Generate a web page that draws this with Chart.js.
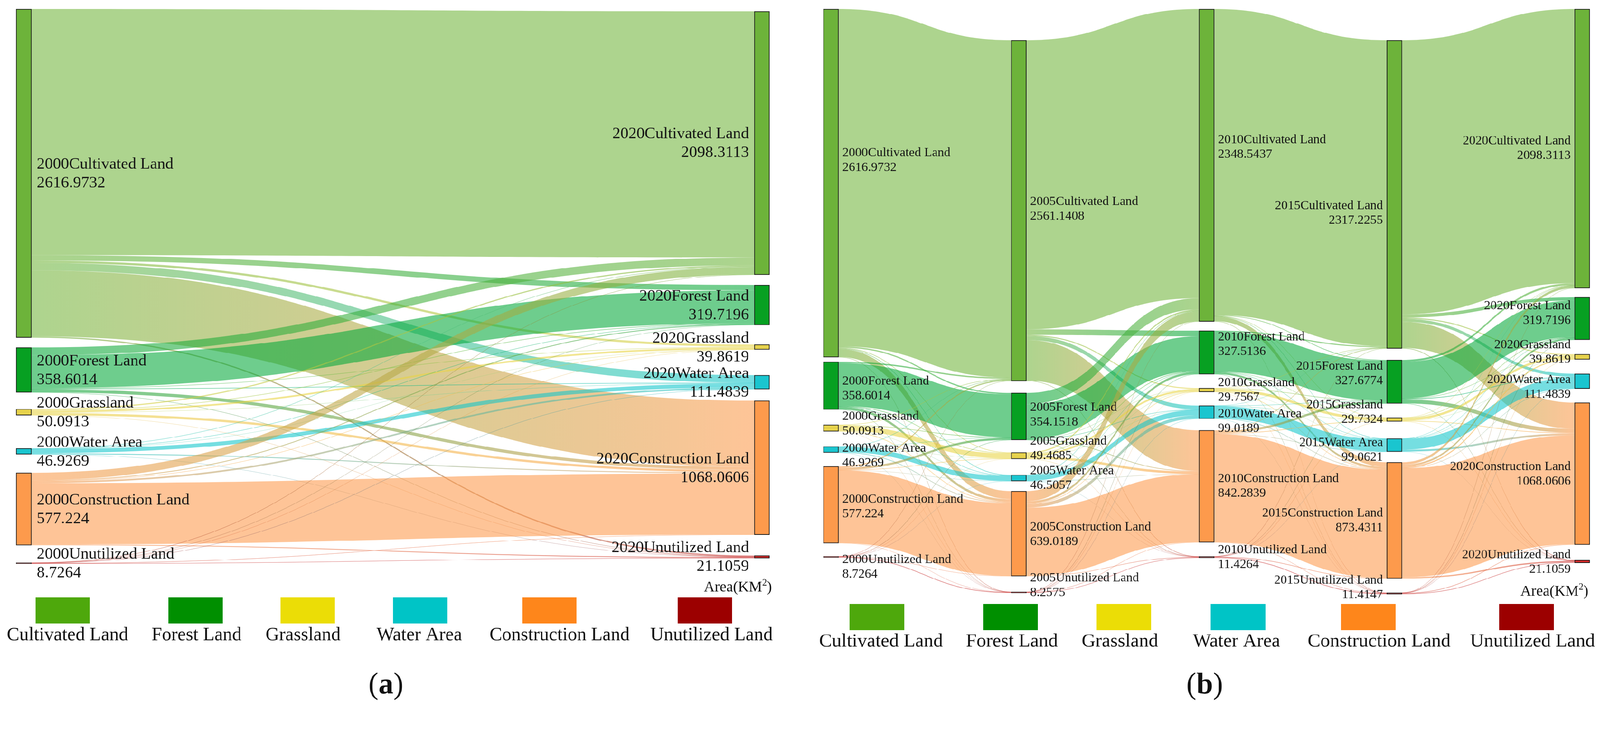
<!DOCTYPE html>
<html>
<head>
<meta charset="utf-8">
<script src="https://cdn.jsdelivr.net/npm/chart.js@4.4.0/dist/chart.umd.min.js"></script>
<style>
  html, body { margin: 0; padding: 0; background: #ffffff; overflow: hidden; }
  #wrap { position: relative; width: 4266px; height: 1880px; overflow: hidden; transform-origin: 0 0; }
  canvas { position: absolute; top: 0; }
</style>
</head>
<body>
<div id="wrap">
  <canvas id="chartA" width="2133" height="1880" style="left:0px;width:2133px;height:1880px"></canvas>
  <canvas id="chartB" width="2133" height="1880" style="left:2133px;width:2133px;height:1880px"></canvas>
</div>
<script>
// ---------------- DATA ----------------
const categories = ['Cultivated Land', 'Forest Land', 'Grassland', 'Water Area', 'Construction Land', 'Unutilized Land'];
const yearsA = ['2000', '2020'];
const yearsB = ['2000', '2005', '2010', '2015', '2020'];

const area2000 = [2616.9732, 358.6014, 50.0913, 46.9269, 577.224, 8.7264];
const area2005 = [2561.1408, 354.1518, 49.4685, 46.5057, 639.0189, 8.2575];
const area2010 = [2348.5437, 327.5136, 29.7567, 99.0189, 842.2839, 11.4264];
const area2015 = [2317.2255, 327.6774, 29.7324, 99.0621, 873.4311, 11.4147];
const area2020 = [2098.3113, 319.7196, 39.8619, 111.4839, 1068.0606, 21.1059];

// flows: rows = from category, columns = to category (km²)
const flow2000to2020 = [
  [1960, 43, 18, 60, 526, 9.9732],
  [62, 262, 4, 3.5, 26, 1.1014],
  [10, 5, 14, 1.5, 18.5913, 1.0],
  [4, 2, 0.8, 32, 7.6269, 0.5],
  [60, 7, 2.76, 13, 488, 6.464],
  [2.3113, 0.7196, 0.3019, 1.4839, 1.8424, 2.0673]
];
const flow2000to2005 = [
  [2534.9732, 10, 5, 5, 60, 2],
  [10, 323.1014, 3, 2, 20, 0.5],
  [3, 3, 37.9913, 1, 5, 0.1],
  [2, 1, 1, 37.9969, 4.9, 0.03],
  [10, 16, 2.4, 0.5, 547.324, 1.0],
  [1.1676, 1.0504, 0.0772, 0.0088, 1.7949, 4.6275]
];
const flow2005to2010 = [
  [2173, 42, 8, 30, 305.1408, 3],
  [85, 260.1518, 1, 2, 5, 1],
  [10, 5, 14.9685, 1, 18, 0.5],
  [3, 1, 1, 39.9957, 1.5, 0.01],
  [76.0437, 18, 4.5, 25.5, 511.4752, 3.5],
  [1.5, 1.3618, 0.2882, 0.5232, 1.1679, 3.4164]
];
const flow2010to2015 = [
  [2300.0437, 5, 2, 3, 35, 3.5],
  [8, 300.5136, 1, 2, 15, 1],
  [2, 3, 20.0567, 0.5, 4, 0.2],
  [1, 2, 1.5, 91.2189, 3, 0.3],
  [5, 16.5, 5, 2, 812.2839, 1.5],
  [1.1818, 0.6638, 0.1757, 0.3432, 4.1472, 4.9147]
];
const flow2015to2020 = [
  [2060, 25, 8, 23, 196.2255, 5],
  [15, 274.6774, 2, 5, 30, 1],
  [2, 3, 18.4324, 1, 5, 0.3],
  [1, 2, 1, 80, 14.5621, 0.5],
  [19.3, 14, 10, 2, 818.1311, 10],
  [1.0113, 1.0422, 0.4295, 0.4839, 4.1419, 4.3059]
];

// ---------------- STYLE / LAYOUT ----------------
const nodeColors = ['#6db33a', '#07a022', '#e6d24c', '#1ac5cf', '#fd9a4c', '#d42a2a'];
const linkColors = ['#72b53c', '#05a83a', '#e8d444', '#12c6cc', '#fd9a4c', '#c83030'];
const legendColors = ['#4ea80c', '#008f00', '#ebdd06', '#00c4c6', '#fe861b', '#9c0000'];
const FONT = '"Liberation Serif", "Times New Roman", serif';

// node top offsets (in km² units along the vertical scale) per column
const layoutA = {
  tops: [
    [0, 2695, 3185, 3499, 3693, 4409],
    [18, 2197, 2672, 2916, 3119, 4352]
  ],
  top: 24, pxPerUnit: 0.335, yMax: 4420, nodeWidth: 41,
  firstCenter: 63.5, lastCenter: 2031.5,
  labelFont: 43, labelLine: 50, labelGap: 14,
  labelSide: ['right', 'left'],
  labelDy: null, defaultDy: -12,
  legend: { boxX: [95, 449, 748, 1048, 1392, 1807], boxY: 1594, boxW: 145, boxH: 69,
            textX: [180, 524, 808, 1118, 1492, 1897], textY: 1708, font: 50 },
  areaText: { right: 2058, y: 1578 },
  caption: { text: 'a', x: 1029, y: 1850 }
};
const layoutB = {
  tops: [
    [0, 2651, 3124, 3287, 3437, 4113],
    [234, 2885, 3332, 3501, 3623, 4380],
    [0, 2417, 2848, 2980, 3166, 4113],
    [234, 2637, 3070, 3228, 3406, 4386],
    [0, 2166, 2594, 2741, 2958, 4141]
  ],
  top: 24, pxPerUnit: 0.355, yMax: 4400, nodeWidth: 41,
  firstCenter: 82.5, lastCenter: 2085.5,
  labelFont: 34, labelLine: 39, labelGap: 10,
  labelSide: ['right', 'right', 'right', 'left', 'left'],
  labelDy: [
    [-72, -3, -22, 6, -6, 16],
    [-15, -15, -30, -10, -9, -29],
    [-59, -32, -10, 14, -11, -10],
    [40, -32, -30, 2, -10, -26],
    [-11, -25, -23, 5, -10, -9]
  ],
  defaultDy: -8,
  legend: { boxX: [132, 488, 790, 1095, 1442, 1864], boxY: 1611, boxW: 146, boxH: 70,
            textX: [216, 565, 853, 1164, 1544, 1953], textY: 1725, font: 51 },
  areaText: { right: 2102, y: 1589 },
  caption: { text: 'b', x: 1079, y: 1850 }
};

// ---------------- DRAWING ----------------
function hexToRgba(hex, a) {
  const n = parseInt(hex.slice(1), 16);
  return 'rgba(' + ((n >> 16) & 255) + ',' + ((n >> 8) & 255) + ',' + (n & 255) + ',' + a + ')';
}

function drawLinks(chart, cfg) {
  const ctx = chart.ctx, xs = chart.scales.x, ys = chart.scales.y;
  const hw = cfg.nodeWidth / 2;
  ctx.save();
  for (let c = 0; c < cfg.flows.length; c++) {
    const F = cfg.flows[c];
    const srcOff = [0, 0, 0, 0, 0, 0];
    const tgtOff = [0, 0, 0, 0, 0, 0];
    const segs = [];
    for (let s = 0; s < 6; s++) {
      for (let t = 0; t < 6; t++) {
        const v = F[s][t];
        const sTop = cfg.tops[c][s] + srcOff[s];
        srcOff[s] += v;
        segs.push({ s, t, v, sTop });
      }
    }
    for (let t = 0; t < 6; t++) {
      for (let s = 0; s < 6; s++) {
        const seg = segs[s * 6 + t];
        seg.tTop = cfg.tops[c + 1][t] + tgtOff[t];
        tgtOff[t] += seg.v;
      }
    }
    const x0 = xs.getPixelForValue(c) + hw;
    const x1 = xs.getPixelForValue(c + 1) - hw;
    const xm = (x0 + x1) / 2;
    segs.forEach(seg => {
      const y0t = ys.getPixelForValue(seg.sTop);
      const y0b = ys.getPixelForValue(seg.sTop + seg.v);
      const y1t = ys.getPixelForValue(seg.tTop);
      const y1b = ys.getPixelForValue(seg.tTop + seg.v);
      let style;
      if (seg.s === seg.t) {
        style = hexToRgba(linkColors[seg.s], 0.58);
      } else {
        const g = ctx.createLinearGradient(x0, 0, x1, 0);
        g.addColorStop(0, hexToRgba(linkColors[seg.s], 0.58));
        g.addColorStop(1, hexToRgba(linkColors[seg.t], 0.58));
        style = g;
      }
      ctx.beginPath();
      ctx.moveTo(x0, y0t);
      ctx.bezierCurveTo(xm, y0t, xm, y1t, x1, y1t);
      ctx.lineTo(x1, y1b);
      ctx.bezierCurveTo(xm, y1b, xm, y0b, x0, y0b);
      ctx.closePath();
      ctx.fillStyle = style;
      ctx.fill();
      if (y0b - y0t < 1.2) {
        const ym0 = (y0t + y0b) / 2, ym1 = (y1t + y1b) / 2;
        ctx.beginPath();
        ctx.moveTo(x0, ym0);
        ctx.bezierCurveTo(xm, ym0, xm, ym1, x1, ym1);
        ctx.lineWidth = 0.6;
        ctx.strokeStyle = style;
        ctx.stroke();
      }
    });
  }
  ctx.restore();
}

function drawLabels(chart, cfg) {
  const ctx = chart.ctx, xs = chart.scales.x, ys = chart.scales.y;
  const hw = cfg.nodeWidth / 2;
  ctx.save();
  ctx.fillStyle = '#141414';
  ctx.font = cfg.labelFont + 'px ' + FONT;
  ctx.textBaseline = 'alphabetic';
  cfg.columns.forEach((areas, c) => {
    const side = cfg.labelSide[c];
    const xc = xs.getPixelForValue(c);
    areas.forEach((v, k) => {
      const top = cfg.tops[c][k];
      const yc = (ys.getPixelForValue(top) + ys.getPixelForValue(top + v)) / 2;
      const dy = cfg.labelDy ? cfg.labelDy[c][k] : cfg.defaultDy;
      let x;
      if (side === 'right') { ctx.textAlign = 'left'; x = xc + hw + cfg.labelGap; }
      else { ctx.textAlign = 'right'; x = xc - hw - cfg.labelGap; }
      ctx.fillText(cfg.years[c] + categories[k], x, yc + dy);
      ctx.fillText(String(v), x, yc + dy + cfg.labelLine);
    });
  });
  ctx.restore();
}

function drawDecor(chart, cfg) {
  const ctx = chart.ctx;
  const L = cfg.legend;
  ctx.save();
  categories.forEach((name, k) => {
    ctx.fillStyle = legendColors[k];
    ctx.fillRect(L.boxX[k], L.boxY, L.boxW, L.boxH);
    ctx.fillStyle = '#111';
    ctx.font = L.font + 'px ' + FONT;
    ctx.textAlign = 'center';
    ctx.textBaseline = 'alphabetic';
    ctx.fillText(name, L.textX[k], L.textY);
  });
  const A = cfg.areaText;
  const f1 = '40px ' + FONT, f2 = '25px ' + FONT;
  ctx.textAlign = 'left';
  ctx.font = f1; const w1 = ctx.measureText('Area(KM').width; const w3 = ctx.measureText(')').width;
  ctx.font = f2; const w2 = ctx.measureText('2').width;
  let x = A.right - (w1 + w2 + w3);
  ctx.font = f1; ctx.fillText('Area(KM', x, A.y); x += w1;
  ctx.font = f2; ctx.fillText('2', x, A.y - 16); x += w2;
  ctx.font = f1; ctx.fillText(')', x, A.y);
  const C = cfg.caption;
  const fn = '80px ' + FONT, fb = 'bold 80px ' + FONT;
  ctx.font = fn; const pw1 = ctx.measureText('(').width; const pw3 = ctx.measureText(')').width;
  ctx.font = fb; const pw2 = ctx.measureText(C.text).width;
  let cx = C.x - (pw1 + pw2 + pw3) / 2;
  ctx.font = fn; ctx.fillText('(', cx, C.y); cx += pw1;
  ctx.font = fb; ctx.fillText(C.text, cx, C.y); cx += pw2;
  ctx.font = fn; ctx.fillText(')', cx, C.y);
  ctx.restore();
}

function makeChart(canvasId, cfg) {
  const W = 2133, H = 1880;
  const nodes = [];
  cfg.columns.forEach((areas, c) => areas.forEach((v, k) => nodes.push({ c, k, v, top: cfg.tops[c][k] })));
  const padBottom = H - cfg.top - cfg.yMax * cfg.pxPerUnit;
  const plugin = {
    id: 'sankeyDraw_' + canvasId,
    beforeDatasetsDraw(chart) { drawLinks(chart, cfg); },
    afterDatasetsDraw(chart) { drawLabels(chart, cfg); },
    afterDraw(chart) { drawDecor(chart, cfg); }
  };
  return new Chart(document.getElementById(canvasId), {
    type: 'bar',
    data: {
      datasets: [{
        data: nodes.map(n => ({ x: n.c, y: [n.top, n.top + n.v] })),
        backgroundColor: nodes.map(n => nodeColors[n.k]),
        borderColor: '#1b1b1b',
        borderWidth: 2,
        borderSkipped: false,
        barThickness: cfg.nodeWidth,
        clip: false
      }]
    },
    options: {
      responsive: false,
      animation: false,
      devicePixelRatio: 1,
      layout: { padding: { left: cfg.firstCenter, right: W - cfg.lastCenter, top: cfg.top, bottom: padBottom } },
      scales: {
        x: { type: 'linear', offset: false, min: 0, max: cfg.columns.length - 1, display: false },
        y: { type: 'linear', min: 0, max: cfg.yMax, reverse: true, display: false }
      },
      plugins: { legend: { display: false }, tooltip: { enabled: false } }
    },
    plugins: [plugin]
  });
}

layoutA.columns = [area2000, area2020];
layoutA.flows = [flow2000to2020];
layoutA.years = yearsA;
layoutB.columns = [area2000, area2005, area2010, area2015, area2020];
layoutB.flows = [flow2000to2005, flow2005to2010, flow2010to2015, flow2015to2020];
layoutB.years = yearsB;

function fitPage() {
  const s = Math.min(window.innerWidth / 4266, window.innerHeight / 1880);
  document.getElementById('wrap').style.transform = (s > 0 && Math.abs(s - 1) > 0.001) ? 'scale(' + s + ')' : 'none';
}
fitPage();
window.addEventListener('resize', fitPage);

makeChart('chartA', layoutA);
makeChart('chartB', layoutB);
</script>
</body>
</html>
